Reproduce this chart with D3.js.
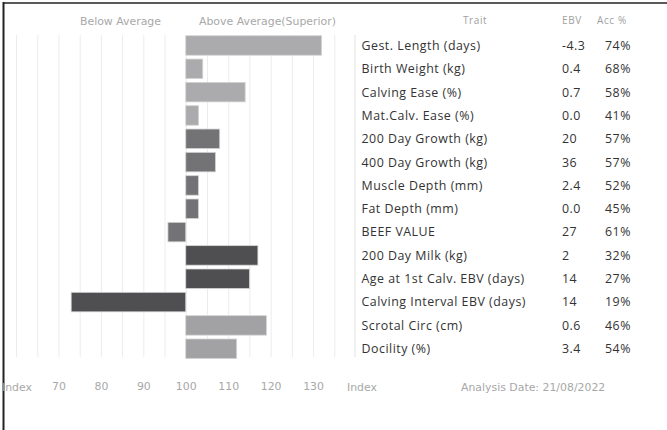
<!DOCTYPE html>
<html>
<head>
<meta charset="utf-8">
<script src="https://cdn.jsdelivr.net/npm/d3@7"></script>
<style>
  body { margin: 0; background: #fff; }
  svg { display: block; }
</style>
</head>
<body>
<div id="chart"></div>
<script>
// Chart data
const traits = ["Gest. Length (days)", "Birth Weight (kg)", "Calving Ease (%)", "Mat.Calv. Ease (%)",
  "200 Day Growth (kg)", "400 Day Growth (kg)", "Muscle Depth (mm)", "Fat Depth (mm)", "BEEF VALUE",
  "200 Day Milk (kg)", "Age at 1st Calv. EBV (days)", "Calving Interval EBV (days)",
  "Scrotal Circ (cm)", "Docility (%)"];
const ebv = ["-4.3", "0.4", "0.7", "0.0", "20", "36", "2.4", "0.0", "27", "2", "14", "14", "0.6", "3.4"];
const acc = ["74%", "68%", "58%", "41%", "57%", "57%", "52%", "45%", "61%", "32%", "27%", "19%", "46%", "54%"];
const indexValues = [132, 104, 114, 103, 108, 107, 103, 103, 95.8, 117, 115, 73, 119, 112];
const groups = ["calving", "calving", "calving", "calving", "growth", "growth", "growth", "growth", "growth",
  "maternal", "maternal", "maternal", "other", "other"];
const tickLabels = [70, 80, 90, 100, 110, 120, 130];

const width = 667, height = 430;
const svg = d3.select("#chart").append("svg").attr("width", width).attr("height", height);

const color = d3.scaleOrdinal()
  .domain(["calving", "growth", "maternal", "other"])
  .range(["#ababad", "#737376", "#4f4f52", "#a2a2a5"]);

// x scale: index, 100 = average
const x = d3.scaleLinear().domain([60, 135]).range([16, 334.3]);
const y = d3.scaleBand().domain(traits).range([33.8, 360.4]).paddingInner(0.164).paddingOuter(0.082);

const rows = traits.map((t, i) => ({ trait: t, ebv: ebv[i], acc: acc[i], value: indexValues[i], group: groups[i] }));

// frame (only left and top edges visible)
svg.append("line").attr("x1", 3.5).attr("x2", 3.5).attr("y1", 2).attr("y2", height)
  .attr("stroke", "#222").attr("stroke-width", 2);
svg.append("line").attr("x1", 3).attr("x2", width).attr("y1", 3).attr("y2", 3)
  .attr("stroke", "#222").attr("stroke-width", 1.5);

// vertical grid lines
svg.append("g")
  .attr("transform", "translate(0,35)")
  .call(d3.axisBottom(x).tickValues(d3.range(60, 136, 5)).tickSize(322).tickFormat(""))
  .call(g => g.select(".domain").remove())
  .call(g => g.selectAll("line").attr("stroke", "#ececec"));

// bars
svg.append("g")
  .selectAll("rect")
  .data(rows)
  .join("rect")
  .attr("x", d => x(Math.min(100, d.value)))
  .attr("y", d => y(d.trait))
  .attr("width", d => Math.abs(x(d.value) - x(100)))
  .attr("height", y.bandwidth())
  .attr("fill", d => color(d.group))
  .attr("stroke", "#d4d4d4")
  .attr("stroke-width", 0.8);

// headers
const headFont = "DejaVu Sans";
svg.append("text").attr("x", 80).attr("y", 25).text("Below Average")
  .style("font-family", headFont).style("font-size", "10.9px").attr("fill", "#a8a8a8");
svg.append("text").attr("x", 199).attr("y", 25).text("Above Average(Superior)")
  .style("font-family", headFont).style("font-size", "10.9px").attr("fill", "#a8a8a8");

const tableFont = "Open Sans";
[["Trait", 463], ["EBV", 562], ["Acc %", 597]].forEach(([t, px]) => {
  svg.append("text").attr("x", px).attr("y", 24).text(t)
    .style("font-family", tableFont).style("font-size", "10px").style("letter-spacing", "0.6px")
    .attr("fill", "#a0a0a0");
});

// divider
svg.append("line").attr("x1", 355).attr("x2", 355).attr("y1", 35).attr("y2", 357)
  .attr("stroke", "#e2e2e2").attr("stroke-width", 1);

// table rows
const table = svg.append("g")
  .style("font-family", tableFont).style("font-size", "12.4px").style("letter-spacing", "0.5px")
  .attr("fill", "#333");
table.selectAll(".trait").data(rows).join("text")
  .attr("x", 361.5).attr("y", d => y(d.trait) + y.bandwidth() / 2 + 4.4).text(d => d.trait);
table.selectAll(".ebv").data(rows).join("text")
  .attr("x", 562).attr("y", d => y(d.trait) + y.bandwidth() / 2 + 4.4).text(d => d.ebv);
table.selectAll(".acc").data(rows).join("text")
  .attr("x", 605).attr("y", d => y(d.trait) + y.bandwidth() / 2 + 4.4).text(d => d.acc);

// bottom index axis labels
svg.append("g")
  .attr("transform", "translate(0,382.5)")
  .call(d3.axisBottom(x).tickValues(tickLabels).tickSize(0).tickPadding(0))
  .call(g => g.select(".domain").remove())
  .call(g => g.selectAll("text").style("font-family", headFont).style("font-size", "10.9px").attr("fill", "#a8a8a8"));

[["Index", 2], ["Index", 347], ["Analysis Date: 21/08/2022", 461]].forEach(([t, px]) => {
  svg.append("text").attr("x", px).attr("y", 390.5).text(t)
    .style("font-family", headFont).style("font-size", "10.9px").attr("fill", "#a8a8a8");
});
</script>
</body>
</html>
